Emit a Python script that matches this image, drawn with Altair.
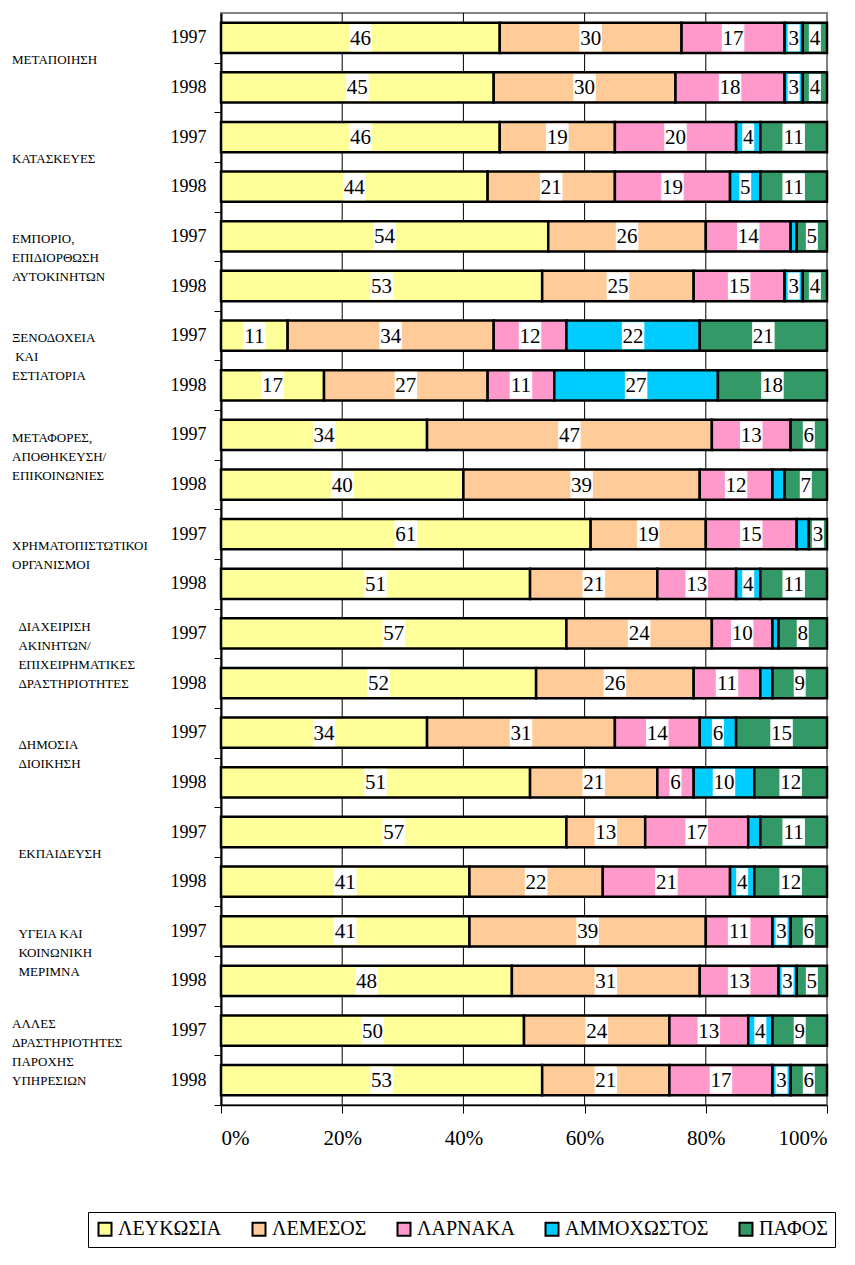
import altair as alt

sectors = [
    "ΜΕΤΑΠΟΙΗΣΗ",
    "ΚΑΤΑΣΚΕΥΕΣ",
    "ΕΜΠΟΡΙΟ,\nΕΠΙΔΙΟΡΘΩΣΗ\nΑΥΤΟΚΙΝΗΤΩΝ",
    "ΞΕΝΟΔΟΧΕΙΑ\n ΚΑΙ\nΕΣΤΙΑΤΟΡΙΑ",
    "ΜΕΤΑΦΟΡΕΣ,\nΑΠΟΘΗΚΕΥΣΗ/\nΕΠΙΚΟΙΝΩΝΙΕΣ",
    "ΧΡΗΜΑΤΟΠΙΣΤΩΤΙΚΟΙ\nΟΡΓΑΝΙΣΜΟΙ",
    "  ΔΙΑΧΕΙΡΙΣΗ\n  ΑΚΙΝΗΤΩΝ/\n  ΕΠΙΧΕΙΡΗΜΑΤΙΚΕΣ\n  ΔΡΑΣΤΗΡΙΟΤΗΤΕΣ",
    "  ΔΗΜΟΣΙΑ\n  ΔΙΟΙΚΗΣΗ",
    "  ΕΚΠΑΙΔΕΥΣΗ",
    "  ΥΓΕΙΑ ΚΑΙ\n  ΚΟΙΝΩΝΙΚΗ\n  ΜΕΡΙΜΝΑ",
    "ΑΛΛΕΣ\nΔΡΑΣΤΗΡΙΟΤΗΤΕΣ\nΠΑΡΟΧΗΣ\nΥΠΗΡΕΣΙΩΝ",
]
years = ["1997", "1998"]
cities = ["ΛΕΥΚΩΣΙΑ", "ΛΕΜΕΣΟΣ", "ΛΑΡΝΑΚΑ", "ΑΜΜΟΧΩΣΤΟΣ", "ΠΑΦΟΣ"]
colors = ["#FFFF99", "#FFCC99", "#FF99CC", "#00CCFF", "#339966"]

# one value per bar (sector x year, top to bottom)
lefkosia    = [46, 45, 46, 44, 54, 53, 11, 17, 34, 40, 61, 51, 57, 52, 34, 51, 57, 41, 41, 48, 50, 53]
lemesos     = [30, 30, 19, 21, 26, 25, 34, 27, 47, 39, 19, 21, 24, 26, 31, 21, 13, 22, 39, 31, 24, 21]
larnaka     = [17, 18, 20, 19, 14, 15, 12, 11, 13, 12, 15, 13, 10, 11, 14, 6, 17, 21, 11, 13, 13, 17]
ammochostos = [3, 3, 4, 5, 1, 3, 22, 27, 0, 2, 2, 4, 1, 2, 6, 10, 2, 4, 3, 3, 4, 3]
pafos       = [4, 4, 11, 11, 5, 4, 21, 18, 6, 7, 3, 11, 8, 9, 15, 12, 11, 12, 6, 5, 9, 6]
series = [lefkosia, lemesos, larnaka, ammochostos, pafos]
grid_values = [20, 40, 60, 80]
axis_values = [0, 20, 40, 60, 80, 100]

keys = []
for i in range(len(sectors)):
    for y in years:
        keys.append(f"{i:02d}_{y}")

rows = []
for r, k in enumerate(keys):
    cum = 0
    for c, city in enumerate(cities):
        v = series[c][r]
        rows.append({"row": k, "city": city, "ci": c, "val": v,
                     "start": cum, "end": cum + v, "mid": cum + v / 2,
                     "nd": len(str(v))})
        cum += v

# one row per text line of the sector labels (slot = line position in its block)
lab_rows = []
for i, s in enumerate(sectors):
    lines = s.split("\n")
    n = len(lines)
    for j, ln in enumerate(lines):
        lab_rows.append({"row": f"{i:02d}_1997", "text": ln.strip(),
                         "slot": 2 * j - (n - 1), "ind": len(ln) - len(ln.lstrip())})
grid_rows = [{"g": g} for g in grid_values]

FONT = "Liberation Serif"
PX = 6.06  # pixels per percent of the x scale (for white label boxes)
HALF_STEP = 1092 / 22 / 2

yenc = alt.Y("row:N",
             scale=alt.Scale(paddingInner=0.39, paddingOuter=0.195),
             axis=alt.Axis(title=None, labelExpr="substring(datum.value, 3)",
                           tickOffset=HALF_STEP, labelOffset=-HALF_STEP,
                           tickSize=7, labelPadding=8, labelFontSize=18, labelFont=FONT,
                           labelColor="black", domainColor="black", domainWidth=2,
                           tickColor="black", grid=False))
yplain = alt.Y("row:N")
xscale = alt.Scale(domain=[0, 100])

base = alt.Chart(alt.Data(values=rows))

bars = base.transform_filter("datum.val > 0").mark_bar(
    stroke="black", strokeWidth=2.5
).encode(
    y=yenc,
    x=alt.X("start:Q", scale=xscale,
            axis=alt.Axis(values=axis_values, labelExpr="datum.value + '%'", title=None, grid=False,
                          tickSize=8, labelPadding=14, labelFontSize=21, labelFont=FONT,
                          labelColor="black", domainColor="black", domainWidth=1.5, tickColor="black")),
    x2="end:Q",
    color=alt.Color("city:N", sort=cities, scale=alt.Scale(domain=cities, range=colors),
                    legend=alt.Legend(orient="none", legendX=-133, legendY=1199, direction="horizontal",
                                      columns=5, title=None, symbolType="square", symbolSize=169,
                                      symbolStrokeColor="black", symbolStrokeWidth=2,
                                      labelFont=FONT, labelFontSize=20, labelColor="black",
                                      strokeColor="black", fillColor="white", padding=7,
                                      columnPadding=26, labelOffset=3)),
)

labelled = base.transform_filter("datum.val >= 3").transform_calculate(
    lo="datum.mid - (datum.nd * 10.5 + 1.5) / (2 * %s)" % PX,
    hi="datum.mid + (datum.nd * 10.5 + 1.5) / (2 * %s)" % PX,
)

boxes = labelled.mark_rule(color="white", strokeWidth=27).encode(
    y=yplain, x=alt.X("lo:Q", scale=xscale), x2="hi:Q"
)

texts = labelled.mark_text(font=FONT, fontSize=21, color="black", baseline="middle", dy=1).encode(
    y=yplain, x=alt.X("mid:Q", scale=xscale), text="val:Q"
)

grid = alt.Chart(alt.Data(values=grid_rows)).mark_rule(color="black", strokeWidth=1).encode(
    x=alt.X("g:Q", scale=xscale))

lab_base = alt.Chart(alt.Data(values=lab_rows))
label_layers = []
for slot, ind in sorted({(d["slot"], d["ind"]) for d in lab_rows}):
    label_layers.append(
        lab_base.transform_filter(f"datum.slot == {slot} && datum.ind == {ind}").mark_text(
            font=FONT, fontSize=13, color="black", align="left", baseline="middle",
            dy=21.8 + slot * 9.5, dx=ind * 3.2
        ).encode(y=yplain, x=alt.value(-209), text="text:N")
    )

chart = alt.layer(grid, bars, boxes, texts, *label_layers).properties(
    width=606, height=1092,
    autosize=alt.AutoSizeParams(type="none"),
    padding={"left": 213, "top": 5, "right": 20, "bottom": 143},
).configure_view(stroke="#808080", strokeWidth=2)

chart.save("out.html", embed_options={"renderer": "svg", "actions": False})
